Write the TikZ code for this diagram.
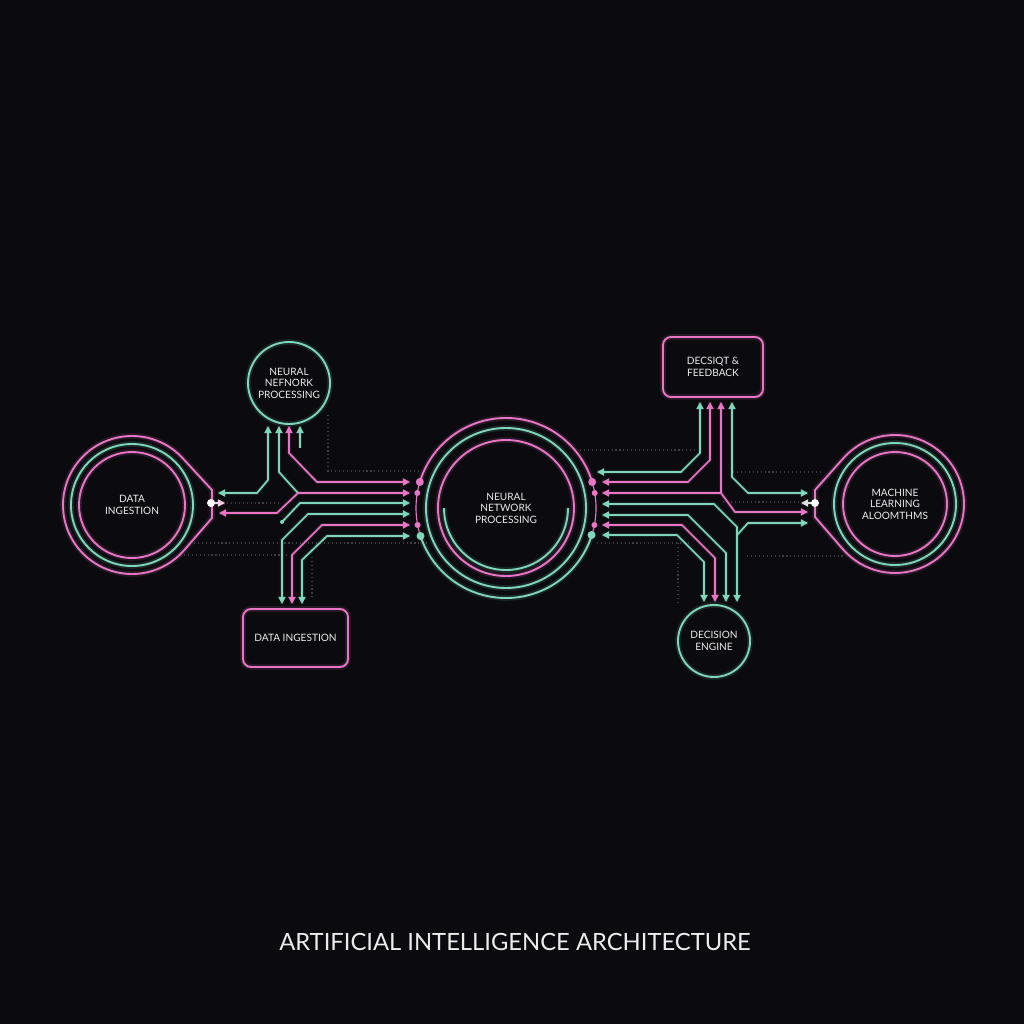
\documentclass[tikz,border=0pt]{standalone}
\usepackage{fontspec}
\setmainfont{Lato}
\usetikzlibrary{arrows.meta,calc}

\definecolor{bgc}{RGB}{11,11,15}
\definecolor{pk}{RGB}{232,118,196}
\definecolor{tl}{RGB}{128,214,186}
\definecolor{txt}{RGB}{236,236,236}
\definecolor{grd}{RGB}{62,62,70}
\newcommand\ringfont{\fontsize{7.2}{8.2}\selectfont}

\begin{document}
\begin{tikzpicture}[
    x=0.25mm, y=-0.25mm,
    glow/.style={preaction={draw=#1, draw opacity=.13, line width=4pt, -}},
    ring/.style={circle, draw=#1, glow=#1, line width=1.35pt, inner sep=0pt, align=center, text=txt, font=\ringfont},
    card/.style={draw=#1, glow=#1, line width=1.35pt, rounded corners=2mm, align=center, text=txt, font=\ringfont},
    band/.style={draw=#1, glow=#1, line width=1.35pt},
    wire/.style={draw=#1, line width=1.2pt, preaction={draw=#1, draw opacity=.12, line width=3pt, -}, >={Triangle[length=5pt,width=5pt]}},
    guide/.style={draw=grd, line width=0.8pt, dotted}
]
    \useasboundingbox (0,0) rectangle (1024,1024);
    \fill[bgc] (0,0) rectangle (1024,1024);

    % Dotted guides
    \draw[guide] (328,415) -- (328,471) -- (420,471);
    \draw[guide] (227,503) -- (280,503);
    \draw[guide] (190,543) -- (430,543);
    \draw[guide] (180,555) -- (290,555);
    \draw[guide] (312,557) -- (312,600);
    \draw[guide] (580,450) -- (697,450);
    \draw[guide] (733,472) -- (820,472);
    \draw[guide] (723,502) -- (800,502);
    \draw[guide] (597,543) -- (690,543);
    \draw[guide] (678,543) -- (678,603);
    \draw[guide] (747,556) -- (845,556);

    % Nodes
    \node[ring=pk, minimum size=26.5mm] (din) at (132,505) {DATA\\INGESTION};
    \node[ring=tl, minimum size=20.5mm] (nnp) at (289,383) {NEURAL\\NEFNORK\\PROCESSING};
    \node[ring=pk, minimum size=34mm] (cnp) at (506,508) {NEURAL\\NETWORK\\PROCESSING};
    \node[card=pk, minimum width=26.25mm, minimum height=14.5mm] (dib) at (295.5,638) {DATA INGESTION};
    \node[card=pk, minimum width=25mm, minimum height=15mm] (dfb) at (713,367) {DECSIQT \&\\FEEDBACK};
    \node[ring=tl, minimum size=18mm] (den) at (714,641) {DECISION\\ENGINE};
    \node[ring=pk, minimum size=26mm] (mla) at (895,504) {MACHINE\\LEARNING\\ALOOMTHMS};
    \node[text=txt, font=\fontsize{16.9}{20}\selectfont] (title) at (515,942) {ARTIFICIAL INTELLIGENCE ARCHITECTURE};

    % Extra rings
    \draw[band=tl] (din) circle[radius=61];
    \draw[band=pk] (212,490) -- ($(din)+(-42.6:69)$) arc[start angle=-42.6, end angle=-319.2, radius=69] -- (212,518) -- cycle;
    \draw[band=tl] (mla) circle[radius=61];
    \draw[band=pk] (815,490) -- ($(mla)+(221.7:69)$) arc[start angle=221.7, end angle=499.2, radius=69] -- (815,517) -- cycle;
    \draw[band=tl] (cnp) circle[radius=80];
    \draw[band=pk] ($(cnp)+(198:90)$) arc[start angle=198, end angle=342, radius=90];
    \draw[band=tl] ($(cnp)+(18:90)$) arc[start angle=18, end angle=162, radius=90];
    \draw[pk, line width=0.8pt] ($(cnp)+(162:90)$) arc[start angle=162, end angle=198, radius=90];
    \draw[pk, line width=0.8pt] ($(cnp)+(-18:90)$) arc[start angle=-18, end angle=18, radius=90];
    \draw[band=tl] ($(cnp)+(0:62)$) arc[start angle=0, end angle=180, radius=62];

    % Ports
    \coordinate (nnp1) at (268,426);
    \coordinate (nnp2) at (279,426);
    \coordinate (nnp3) at (289,426);
    \coordinate (nnp4) at (300,426);
    \coordinate (stub) at (300,448);
    \coordinate (seed) at (282,522);
    \coordinate (dib1) at (282,604);
    \coordinate (dib2) at (292,604);
    \coordinate (dib3) at (302,604);
    \coordinate (din1) at (218,493);
    \coordinate (din2) at (211,503);
    \coordinate (din3) at (219,513);
    \coordinate (din4) at (225,503);
    \coordinate (cnpL1) at (410,482);
    \coordinate (cnpL2) at (410,493);
    \coordinate (cnpL3) at (410,503);
    \coordinate (cnpL4) at (410,514);
    \coordinate (cnpL5) at (410,525);
    \coordinate (cnpL6) at (410,536);
    \coordinate (cnpR0) at (597,472);
    \coordinate (cnpR1) at (602,482);
    \coordinate (cnpR2) at (602,493);
    \coordinate (cnpR3) at (602,504);
    \coordinate (cnpR4) at (602,515);
    \coordinate (cnpR5) at (602,525);
    \coordinate (cnpR6) at (602,535);
    \coordinate (dfb1) at (700,402);
    \coordinate (dfb2) at (710,402);
    \coordinate (dfb3) at (721,402);
    \coordinate (dfb4) at (732,402);
    \coordinate (den1) at (704,602);
    \coordinate (den2) at (715,602);
    \coordinate (den3) at (726,602);
    \coordinate (den4) at (737,602);
    \coordinate (mla1) at (808,493);
    \coordinate (mla2) at (815,503);
    \coordinate (mla3) at (808,512);
    \coordinate (mla4) at (808,523);
    \coordinate (mla5) at (801,503);
    \coordinate (jL) at (298,493);
    \coordinate (jR) at (721,493);
    \coordinate (jR2) at (737,527);
    \coordinate (jR3) at (737,535);

    % Left wiring
    \draw[wire=tl, <->] (nnp1) -- (268,480) -- (257,493) -- (din1);
    \draw[wire=tl, <-] (nnp2) -- (279,472) -- (jL);
    \draw[wire=pk, <->] (din3) -- (277,513) -- (jL) -- (cnpL2);
    \draw[wire=pk, <->] (nnp3) -- (289,453) -- (317,482) -- (cnpL1);
    \draw[wire=tl, <-] (nnp4) -- (stub);
    \draw[wire=tl, ->] (seed) -- (300,503) -- (cnpL3);
    \draw[wire=tl, <->] (dib1) -- (282,540) -- (308,514) -- (cnpL4);
    \draw[wire=pk, <->] (dib2) -- (292,555) -- (322,525) -- (cnpL5);
    \draw[wire=tl, <->] (dib3) -- (302,560) -- (327,536) -- (cnpL6);
    \draw[wire=pk!35!white, ->] (din2) -- (din4);

    % Right wiring
    \draw[wire=tl, <->] (dfb1) -- (700,453) -- (681,472) -- (cnpR0);
    \draw[wire=pk, <->] (dfb2) -- (710,460) -- (688,482) -- (cnpR1);
    \draw[wire=pk, <-] (dfb3) -- (jR);
    \draw[wire=pk, <->] (cnpR2) -- (jR) -- (735,512) -- (mla3);
    \draw[wire=tl, <->] (dfb4) -- (732,477) -- (748,493) -- (mla1);
    \draw[wire=tl, <->] (cnpR3) -- (714,504) -- (jR2) -- (den4);
    \draw[wire=tl, ->] (jR3) -- (748,523) -- (mla4);
    \draw[wire=tl, <->] (cnpR4) -- (688,515) -- (726,553) -- (den3);
    \draw[wire=pk, <->] (cnpR5) -- (682,525) -- (715,558) -- (den2);
    \draw[wire=tl, <->] (cnpR6) -- (677,535) -- (704,562) -- (den1);
    \draw[wire=white!75!gray, ->] (mla2) -- (mla5);

    % Dots
    \fill[white] (din2) circle (4);
    \fill[white] (mla2) circle (4);
    \fill[tl] (seed) circle (2);
    \fill[pk] (419.8,482) circle (4);
    \fill[pk] (417.3,493) circle (3);
    \fill[pk] (417.6,525) circle (3);
    \fill[tl] (420.5,536) circle (4);
    \fill[pk] (592.2,482) circle (4);
    \fill[pk] (594.7,493) circle (3);
    \fill[pk] (594.4,525) circle (3);
    \fill[tl] (591.5,535) circle (4);

\end{tikzpicture}
\end{document}
